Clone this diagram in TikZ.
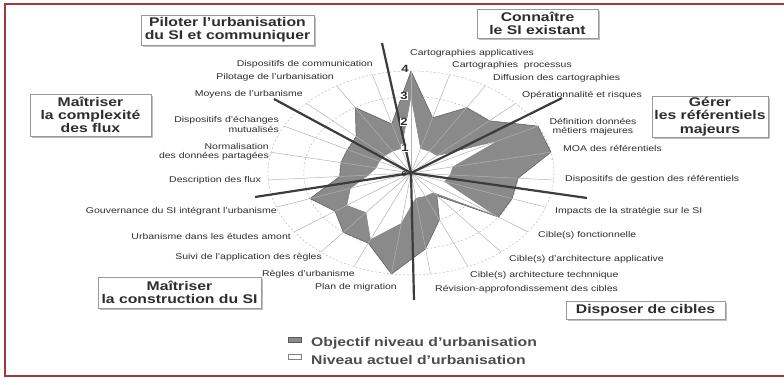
\documentclass[tikz,border=0pt]{standalone}
\usepackage{fontspec}
\setmainfont{Liberation Sans}[FakeStretch=1.25]
\definecolor{framered}{RGB}{165,55,55}
\definecolor{objfill}{RGB}{138,138,138}
\definecolor{objline}{RGB}{90,90,90}
\definecolor{ink}{RGB}{45,45,45}
\definecolor{sector}{RGB}{60,60,60}
\begin{document}
\begin{tikzpicture}[x=1pt,y=-1pt,
  axislabel/.style={inner sep=0pt,text=ink,font=\fontsize{8.4}{9.3}\selectfont},
  theme/.style={draw=gray!80,fill=white,line width=0.6pt,inner sep=0pt,
    align=center,text=ink,font=\bfseries\fontsize{12.6}{13.3}\selectfont,
    preaction={fill=gray!50,transform canvas={shift={(1.8,1.8)}}}},
  ring/.style={draw=gray!55,dashed,dash pattern=on 2pt off 2pt,line width=0.5pt},
  spoke/.style={draw=gray!60,line width=0.5pt},
  sectorline/.style={draw=sector,line width=2.2pt},
  levelnum/.style={fill=white,inner sep=0.6pt,text=ink,font=\bfseries\fontsize{10.5}{10.5}\selectfont},
  legendtext/.style={inner sep=0pt,anchor=west,text=ink!85,font=\bfseries\fontsize{12.6}{13}\selectfont}]

\useasboundingbox (0,0) rectangle (784,385);

% frame, open on the right
\draw[framered,line width=2pt] (790,4) -- (4.5,4) -- (4.5,375.5) -- (790,375.5);

% radar geometry: centre and size of one level
\def\cx{411}\def\cy{173}\def\rx{35.75}\def\ry{25.5}
\coordinate (c) at (\cx,\cy);

% level rings
\foreach \l in {1,2,3,4}
  \draw[ring] (c) ellipse[x radius=\l*\rx, y radius=\l*\ry];

% target and current levels, one value per axis, clockwise from the top
\foreach \v [count=\k from 0] in {4,2.25,3,3,4,4,3,3,3,1.15,2,3,4,3,3,2.6,3,2,2,2,2.1,3,2}
  \coordinate (o\k) at ({\cx+\rx*\v*cos(90-\k*360/23)},{\cy-\ry*\v*sin(90-\k*360/23)});
\foreach \v [count=\k from 0] in {3,1,1,1,2.75,1.2,1.1,1,2.9,1,1,1,2,2.85,2,2.2,1.8,1.2,1,1,1,1,1}
  \coordinate (a\k) at ({\cx+\rx*\v*cos(90-\k*360/23)},{\cy-\ry*\v*sin(90-\k*360/23)});
\foreach \k in {0,...,22}
  \coordinate (s\k) at ({\cx+\rx*4*cos(90-\k*360/23)},{\cy-\ry*4*sin(90-\k*360/23)});

\draw[fill=objfill,draw=objline,line width=0.5pt] (o0) \foreach \k in {1,...,22}{ -- (o\k)} -- cycle;
\draw[fill=white,draw=gray,line width=0.5pt] (a0) \foreach \k in {1,...,22}{ -- (a\k)} -- cycle;

% spokes
\foreach \k in {0,...,22}
  \draw[spoke] (c) -- (s\k);

% sector dividers
\coordinate (d1) at (382,43);
\coordinate (d2) at (274,99);
\coordinate (d3) at (255,197);
\coordinate (d4) at (414,300);
\coordinate (d5) at (587,198);
\coordinate (d6) at (562,98);
\foreach \d in {d1,d2,d3,d4,d5,d6}
  \draw[sectorline] (c) -- (\d);

% level numbers on the vertical axis
\node[levelnum] (n4) at (405,69) {4};
\node[levelnum] (n3) at (404,96) {3};
\node[levelnum] (n2) at (404,122) {2};
\node[levelnum] (n1) at (405,148) {1};
\node[levelnum,font=\bfseries\fontsize{7}{7}\selectfont,fill=none] (n0) at (404,174) {0};

% axis labels, right half
\node[axislabel,anchor=west] (l0) at (410,53) {Cartographies applicatives};
\node[axislabel,anchor=west] (l1) at (452,65) {Cartographies\ \ processus};
\node[axislabel,anchor=west] (l2) at (493,78) {Diffusion des cartographies};
\node[axislabel,anchor=west] (l3) at (522,95) {Opérationnalité et risques};
\node[axislabel,align=center] (l4) at (593,126.5) {Définition données\\métiers majeures};
\node[axislabel,anchor=west] (l5) at (563,148) {MOA des référentiels};
\node[axislabel,anchor=west] (l6) at (565,179) {Dispositifs de gestion des référentiels};
\node[axislabel,anchor=west] (l7) at (555,211) {Impacts de la stratégie sur le SI};
\node[axislabel,anchor=west] (l8) at (538,235) {Cible(s) fonctionnelle};
\node[axislabel,anchor=west] (l9) at (509,259) {Cible(s) d'architecture applicative};
\node[axislabel,anchor=west] (l10) at (470,275) {Cible(s) architecture technnique};
\node[axislabel,anchor=west] (l11) at (435,289) {Révision-approfondissement des cibles};
% axis labels, left half
\node[axislabel,anchor=east] (l12) at (397,287) {Plan de migration};
\node[axislabel,anchor=east] (l13) at (355,274) {Règles d'urbanisme};
\node[axislabel,anchor=east] (l14) at (322,257) {Suivi de l'application des règles};
\node[axislabel,anchor=east] (l15) at (291,236) {Urbanisme dans les études amont};
\node[axislabel,anchor=east] (l16) at (277,211) {Gouvernance du SI intégrant l'urbanisme};
\node[axislabel,anchor=east] (l17) at (261,180) {Description des flux};
\node[axislabel,anchor=east,align=right] (l18) at (269,151.5) {Normalisation\\des données partagées};
\node[axislabel,anchor=east,align=right] (l19) at (279,124.5) {Dispositifs d'échanges\\mutualisés};
\node[axislabel,anchor=east] (l20) at (303,94) {Moyens de l'urbanisme};
\node[axislabel,anchor=east] (l21) at (334,77) {Pilotage de l'urbanisation};
\node[axislabel,anchor=east] (l22) at (373,64) {Dispositifs de communication};

% themes
\node[theme,minimum width=173pt,minimum height=30pt] (t1) at (227.5,30) {Piloter l'urbanisation\\du SI et communiquer};
\node[theme,minimum width=121pt,minimum height=29pt] (t2) at (537.5,23.5) {Connaître\\le SI existant};
\node[theme,minimum width=121pt,minimum height=42pt] (t3) at (90.5,115) {Maîtriser\\la complexité\\des flux};
\node[theme,minimum width=116pt,minimum height=41pt] (t4) at (710,116.5) {Gérer\\les référentiels\\majeurs};
\node[theme,minimum width=163pt,minimum height=31pt] (t5) at (179.5,292.5) {Maîtriser\\la construction du SI};
\node[theme,minimum width=159pt,minimum height=18pt] (t6) at (645.5,310) {Disposer de cibles};

% legend
\node[draw=objline,fill=objfill,minimum width=13pt,minimum height=5pt,inner sep=0pt] (k1) at (294.5,340) {};
\node[draw=gray,fill=white,minimum width=13pt,minimum height=5pt,inner sep=0pt] (k2) at (294.5,357) {};
\node[legendtext] (e1) at (311,343) {Objectif niveau d’urbanisation};
\node[legendtext] (e2) at (311,360) {Niveau actuel d’urbanisation};

\end{tikzpicture}
\end{document}
